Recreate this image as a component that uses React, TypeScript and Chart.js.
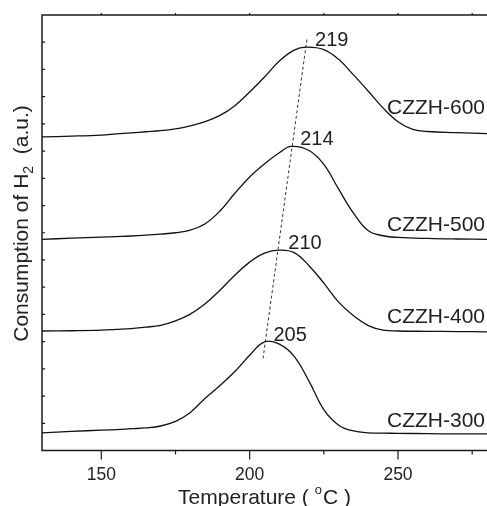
import { useEffect, useRef } from "react";
import { Chart, registerables } from "chart.js";

Chart.register(...registerables);

const FONT = '"Liberation Sans", Arial, Helvetica, sans-serif';

// TPR profiles: temperature (°C) and H2 consumption (a.u., curves stacked with offsets)
const temps300 = [130, 140, 150, 155, 160, 165, 170, 175, 180, 185, 190, 195, 200, 205, 210, 215, 220, 225, 230, 235, 240, 245, 250, 260, 270, 280];
const h2_300 = [0.65, 0.7, 0.75, 0.77, 0.8, 0.83, 0.9, 1.07, 1.4, 1.92, 2.39, 2.9, 3.5, 3.99, 3.91, 3.46, 2.55, 1.5, 0.93, 0.72, 0.65, 0.64, 0.63, 0.62, 0.61, 0.61];

const temps400 = [130, 140, 150, 155, 160, 165, 170, 175, 180, 185, 190, 195, 200, 205, 210, 215, 220, 225, 230, 235, 240, 245, 250, 260, 270, 280];
const h2_400 = [4.39, 4.4, 4.42, 4.45, 4.48, 4.53, 4.6, 4.76, 5.01, 5.39, 5.89, 6.44, 6.92, 7.25, 7.36, 7.27, 6.79, 6.15, 5.45, 4.95, 4.59, 4.42, 4.39, 4.38, 4.37, 4.36];

const temps500 = [130, 140, 150, 155, 160, 165, 170, 175, 180, 185, 190, 195, 200, 205, 210, 214, 220, 225, 230, 235, 240, 245, 250, 260, 270, 280];
const h2_500 = [7.76, 7.8, 7.84, 7.86, 7.88, 7.91, 7.95, 8.0, 8.1, 8.33, 8.8, 9.45, 10.05, 10.53, 10.94, 11.17, 11.02, 10.51, 9.6, 8.72, 8.07, 7.89, 7.83, 7.79, 7.77, 7.76];

const temps600 = [130, 140, 150, 155, 160, 165, 170, 175, 180, 185, 190, 195, 200, 205, 210, 215, 219, 225, 230, 235, 240, 245, 250, 255, 260, 270, 280];
const h2_600 = [11.52, 11.55, 11.59, 11.63, 11.67, 11.71, 11.75, 11.82, 11.93, 12.08, 12.31, 12.67, 13.17, 13.72, 14.31, 14.71, 14.82, 14.73, 14.37, 13.8, 13.2, 12.58, 12.08, 11.8, 11.72, 11.68, 11.64];

const sampleNames = ["CZZH-300", "CZZH-400", "CZZH-500", "CZZH-600"];
// vertical anchor (y units) for each sample name, placed at the right edge
const nameBaselines = [0.87, 4.67, 8.07, 12.37];

// guide line through the reduction peaks
const guideTemps = [204.5, 219.4];
const guideH2 = [3.38, 15.19];

const xTickValues = [150, 200, 250];
const xTickMarks = [150, 175, 200, 225, 250, 275];
const yTickCount = 16;

const series = [
  { t: temps300, h: h2_300 },
  { t: temps400, h: h2_400 },
  { t: temps500, h: h2_500 },
  { t: temps600, h: h2_600 },
];

const toPoints = (t: number[], h: number[]) => t.map((v, i) => ({ x: v, y: h[i] }));

const peakIndex = (h: number[]) => h.reduce((best, v, i) => (v > h[best] ? i : best), 0);

const decorations = {
  id: "decorations",
  afterDatasetsDraw(chart: any) {
    const { ctx, chartArea: a, scales } = chart;
    const xs = scales.x;
    const ys = scales.y;
    ctx.save();

    // frame: left, top and bottom axes
    ctx.strokeStyle = "#1a1a1a";
    ctx.lineWidth = 1.5;
    ctx.beginPath();
    ctx.moveTo(a.right + 2, a.top);
    ctx.lineTo(a.left, a.top);
    ctx.lineTo(a.left, a.bottom);
    ctx.lineTo(a.right + 2, a.bottom);
    ctx.stroke();

    // tick marks
    ctx.lineWidth = 1.2;
    ctx.beginPath();
    for (const v of xTickMarks) {
      const px = xs.getPixelForValue(v);
      const major = v % 50 === 0;
      ctx.moveTo(px, a.bottom);
      ctx.lineTo(px, a.bottom + (major ? 9 : 4));
      ctx.moveTo(px, a.top);
      ctx.lineTo(px, a.top - 2);
    }
    for (let v = 1; v < yTickCount; v++) {
      const py = ys.getPixelForValue(v);
      ctx.moveTo(a.left, py);
      ctx.lineTo(a.left + 3, py);
    }
    ctx.stroke();

    ctx.fillStyle = "#222";

    // peak temperatures
    ctx.font = `20px ${FONT}`;
    ctx.textAlign = "left";
    ctx.textBaseline = "alphabetic";
    series.forEach((s) => {
      const k = peakIndex(s.h);
      const px = xs.getPixelForValue(s.t[k]);
      const py = ys.getPixelForValue(s.h[k]);
      ctx.fillText(String(s.t[k]), px + 9, py - 1);
    });

    // sample names
    ctx.font = `21px ${FONT}`;
    ctx.textAlign = "right";
    sampleNames.forEach((n, i) => {
      ctx.fillText(n, a.right - 2, ys.getPixelForValue(nameBaselines[i]));
    });

    // x-axis title with superscript degree
    ctx.textAlign = "left";
    const big = `21px ${FONT}`;
    const small = `13px ${FONT}`;
    const p1 = "Temperature ( ";
    const p3 = "C )";
    ctx.font = big;
    const w1 = ctx.measureText(p1).width;
    const w3 = ctx.measureText(p3).width;
    ctx.font = small;
    const w2 = ctx.measureText("o").width + 1;
    const cx = (a.left + a.right) / 2;
    let x0 = cx - (w1 + w2 + w3) / 2;
    const base = 503.5;
    ctx.font = big;
    ctx.fillText(p1, x0, base);
    ctx.font = small;
    ctx.fillText("o", x0 + w1, base - 10);
    ctx.font = big;
    ctx.fillText(p3, x0 + w1 + w2, base);

    // y-axis title with subscript 2
    ctx.save();
    ctx.translate(28, 223.5);
    ctx.rotate(-Math.PI / 2);
    const q1 = "Consumption of H";
    const q3 = "  (a.u.)";
    ctx.font = big;
    const v1 = ctx.measureText(q1).width;
    const v3 = ctx.measureText(q3).width;
    ctx.font = `14px ${FONT}`;
    const v2 = ctx.measureText("2").width;
    x0 = -(v1 + v2 + v3) / 2;
    ctx.font = big;
    ctx.fillText(q1, x0, 0);
    ctx.font = `14px ${FONT}`;
    ctx.fillText("2", x0 + v1, 5);
    ctx.font = big;
    ctx.fillText(q3, x0 + v1 + v2, 0);
    ctx.restore();

    ctx.restore();
  },
};

export default function App() {
  const canvasRef = useRef<HTMLCanvasElement | null>(null);

  useEffect(() => {
    if (!canvasRef.current) return;
    const curveStyle = {
      borderColor: "#111",
      borderWidth: 1.3,
      pointRadius: 0,
      fill: false,
      tension: 0.4,
    };
    const chart = new Chart(canvasRef.current, {
      type: "line",
      data: {
        datasets: [
          ...series.map((s, i) => ({
            label: sampleNames[i],
            data: toPoints(s.t, s.h),
            ...curveStyle,
          })),
          {
            label: "peak shift",
            data: toPoints(guideTemps, guideH2),
            borderColor: "#333",
            borderWidth: 1,
            borderDash: [3, 2.5],
            pointRadius: 0,
            fill: false,
          },
        ],
      },
      options: {
        animation: false,
        responsive: false,
        devicePixelRatio: 1,
        layout: { padding: { left: 42, top: 15, right: 0, bottom: 0 } },
        plugins: { legend: { display: false }, tooltip: { enabled: false } },
        scales: {
          x: {
            type: "linear",
            min: 130,
            max: 280,
            grid: { display: false },
            border: { display: false },
            afterBuildTicks: (s: any) => {
              s.ticks = xTickValues.map((v) => ({ value: v }));
            },
            afterFit: (s: any) => {
              s.height = 55.5;
            },
            ticks: {
              padding: 6,
              color: "#222",
              font: { family: FONT, size: 17.5 },
              maxRotation: 0,
            },
          },
          y: {
            type: "linear",
            min: 0,
            max: yTickCount,
            display: false,
          },
        },
      },
      plugins: [decorations],
    });
    return () => chart.destroy();
  }, []);

  return (
    <div style={{ position: "absolute", left: 0, top: 0, width: 487, height: 506 }}>
      <canvas ref={canvasRef} width={487} height={506} style={{ display: "block" }} />
    </div>
  );
}
